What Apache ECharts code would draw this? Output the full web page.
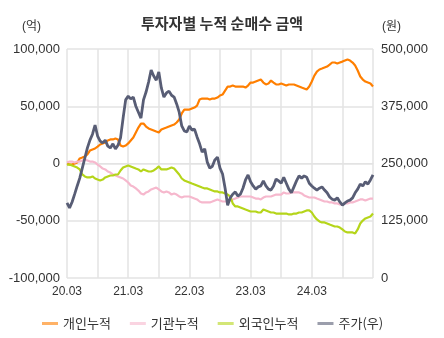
<!DOCTYPE html>
<html>
<head>
<meta charset="utf-8">
<script src="https://cdn.jsdelivr.net/npm/echarts@6/dist/echarts.min.js"></script>
<style>
  html, body { margin: 0; padding: 0; background: #fff; }
  #chart { width: 444px; height: 338px; }
</style>
</head>
<body>
<div id="chart"></div>
<script>
// Half-monthly observation dates, 2020.03 – 2025.03
const startYear = 20;
const periods = 121;

// Tick labels shown on the date axis
const yearLabels = ['20.03', '21.03', '22.03', '23.03', '24.03'];

// Cumulative net buying (억 원)
const individual = [
  0, -900, -900, 0, 900, 4400, 5200, 6100, 7900, 11300,
  12200, 13100, 14800, 16600, 17500, 18300, 20100, 21000, 21000, 21800,
  21000, 15700, 14800, 15700, 17500, 20100, 22700, 27100, 31400, 34900,
  34900, 32300, 30600, 29700, 28800, 27900, 27100, 29700, 30600, 31400,
  32300, 33200, 34000, 35800, 38400, 43700, 47100, 47100, 47100, 48000,
  48900, 50600, 55900, 56700, 56700, 56700, 55900, 56700, 56700, 57600,
  59400, 60200, 63700, 67200, 67200, 68100, 67200, 67200, 67200, 67200,
  66300, 68100, 70700, 70700, 71600, 72500, 73300, 70700, 69000, 69800,
  72500, 70700, 69000, 69000, 69800, 69000, 68100, 69000, 69000, 69000,
  68100, 67200, 66300, 65500, 64600, 67200, 71600, 76800, 80300, 82100,
  82900, 83800, 84700, 86400, 88200, 88200, 87300, 88200, 89000, 89900,
  90800, 89900, 88200, 85600, 81200, 76000, 73300, 71600, 70700, 69800,
  67200
];
const institution = [
  900, 1700, 1700, 900, 1700, 1700, 2600, 3500, 2600, 1700,
  1700, 900, -900, -2600, -4400, -5200, -7000, -7900, -9600, -10500,
  -11300, -12200, -13100, -14800, -16600, -19200, -20100, -21800, -23600, -26200,
  -27100, -25300, -24400, -22700, -21800, -21000, -22700, -24400, -25300, -24400,
  -25300, -27100, -26200, -27100, -28800, -29700, -28800, -28800, -28800, -29700,
  -30600, -31400, -33200, -34000, -34000, -34000, -34000, -33200, -32300, -31400,
  -32300, -33200, -33200, -33200, -32300, -31400, -30600, -29700, -28800, -28800,
  -28800, -28800, -28800, -29700, -30600, -30600, -31400, -29700, -28800, -28800,
  -28800, -27900, -27100, -27100, -27100, -25300, -26200, -26200, -25300, -25300,
  -25300, -25300, -26200, -27900, -28800, -29700, -29700, -29700, -30600, -31400,
  -32300, -33200, -33200, -34000, -34000, -34900, -34900, -35800, -35800, -34900,
  -34900, -34000, -34000, -33200, -32300, -31400, -31400, -32300, -31400, -30600,
  -30600
];
const foreign = [
  -900, -900, -1700, -2600, -3500, -5200, -9600, -11300, -12200, -12200,
  -11300, -13100, -14000, -14800, -14000, -12200, -11300, -10500, -10500, -9600,
  -9600, -6100, -3500, -2600, -1700, -2600, -3500, -4400, -5200, -7000,
  -5200, -6100, -7000, -7000, -6100, -4400, -2600, -5200, -5200, -5200,
  -4400, -3500, -4400, -7000, -9600, -13100, -14800, -15700, -16600, -17500,
  -18300, -19200, -20100, -21000, -21800, -21800, -22700, -23600, -24400, -24400,
  -25300, -25300, -26200, -27100, -28800, -34900, -37500, -37500, -38400, -39300,
  -40200, -41000, -41900, -41900, -41900, -42800, -42800, -40200, -41000, -41900,
  -42800, -42800, -43700, -43700, -43700, -43700, -43700, -44500, -44500, -43700,
  -43700, -42800, -42800, -41900, -41000, -41000, -42800, -46300, -48900, -50600,
  -51500, -51500, -52400, -53300, -54100, -55000, -55000, -55900, -57600, -59400,
  -60200, -60200, -60200, -61100, -57600, -52400, -49800, -48000, -47100, -46300,
  -43700
];
// Share price (원), right axis
const price = [
  164000, 153000, 166000, 183000, 201000, 218000, 240000, 262000, 284000, 301000,
  314000, 334000, 310000, 299000, 295000, 301000, 288000, 284000, 293000, 282000,
  290000, 306000, 349000, 389000, 397000, 391000, 395000, 375000, 362000, 349000,
  389000, 406000, 428000, 454000, 441000, 432000, 450000, 415000, 395000, 404000,
  408000, 399000, 395000, 380000, 362000, 332000, 321000, 319000, 332000, 323000,
  325000, 308000, 293000, 275000, 282000, 253000, 240000, 244000, 258000, 264000,
  240000, 227000, 196000, 159000, 175000, 183000, 188000, 179000, 183000, 196000,
  214000, 225000, 210000, 201000, 194000, 199000, 201000, 212000, 201000, 194000,
  192000, 201000, 216000, 212000, 207000, 220000, 207000, 194000, 186000, 199000,
  212000, 223000, 218000, 223000, 220000, 207000, 201000, 196000, 192000, 196000,
  199000, 192000, 186000, 177000, 172000, 170000, 175000, 166000, 159000, 164000,
  168000, 170000, 175000, 186000, 194000, 205000, 201000, 210000, 205000, 214000,
  225000
];

// Build the date categories (two per month)
const categories = [];
for (let k = 0; k < periods; k++) {
  const m = 2 + Math.floor(k / 2);           // months since Jan of start year (0-based)
  const yy = startYear + Math.floor(m / 12);
  const mm = (m % 12) + 1;
  const dd = k % 2 === 0 ? '01' : '16';
  categories.push(String(yy).padStart(2, '0') + '.' + String(mm).padStart(2, '0') + '.' + dd);
}

const FONT = "'Liberation Sans', 'Noto Sans CJK KR', sans-serif";
const grid = '#e3e3e3';

const chart = echarts.init(document.getElementById('chart'), null, { renderer: 'canvas' });
chart.setOption({
  animation: false,
  backgroundColor: '#fff',
  textStyle: { fontFamily: FONT },
  title: {
    text: '투자자별 누적 순매수 금액',
    left: 'center',
    top: 11,
    textStyle: { fontFamily: "'Noto Sans CJK KR', sans-serif", fontSize: 15, fontWeight: 'bold', color: '#333' }
  },
  legend: {
    left: 37,
    top: 312,
    icon: 'rect',
    itemWidth: 16,
    itemHeight: 3,
    itemGap: 19,
    textStyle: { fontFamily: "'Noto Sans CJK KR', sans-serif", fontSize: 13, color: '#333' },
    itemStyle: { opacity: 0.6 }
  },
  grid: { left: 67, right: 71, top: 49, bottom: 60, containLabel: false },
  xAxis: {
    type: 'category',
    data: categories,
    boundaryGap: false,
    axisLine: { lineStyle: { color: grid } },
    axisTick: { show: false },
    axisLabel: {
      color: '#333',
      fontSize: 12,
      margin: 8,
      interval: (idx) => idx % 24 === 0 && yearLabels.includes(categories[idx].slice(0, 5)),
      formatter: (v) => v.slice(0, 5)
    },
    splitLine: { show: true, interval: (idx) => idx % 12 === 0, lineStyle: { color: grid, width: 1.5 } }
  },
  yAxis: [
    {
      type: 'value',
      name: '(억)',
      nameLocation: 'end',
      nameGap: 16,
      nameTextStyle: { color: '#333', fontSize: 12, align: 'right', padding: [0, 26, 0, 0] },
      min: -100000, max: 100000, interval: 50000,
      axisLine: { show: false },
      axisTick: { show: false },
      axisLabel: { color: '#333', fontSize: 13, margin: 7, formatter: (v) => v.toLocaleString('en-US') },
      splitLine: { lineStyle: { color: grid, width: 1.5 } }
    },
    {
      type: 'value',
      name: '(원)',
      nameLocation: 'end',
      nameGap: 16,
      nameTextStyle: { color: '#333', fontSize: 12, align: 'left', padding: [0, 0, 0, 9] },
      min: 0, max: 500000, interval: 125000,
      axisLine: { show: false },
      axisTick: { show: false },
      axisLabel: { color: '#333', fontSize: 13, margin: 8, formatter: (v) => v.toLocaleString('en-US') },
      splitLine: { show: false }
    }
  ],
  series: [
    { name: '개인누적', type: 'line', data: individual, showSymbol: false, color: '#ff7f00', lineStyle: { width: 2.2 } },
    { name: '기관누적', type: 'line', data: institution, showSymbol: false, color: '#f6b8cd', lineStyle: { width: 2.2 } },
    { name: '외국인누적', type: 'line', data: foreign, showSymbol: false, color: '#b5d51a', lineStyle: { width: 2.2 } },
    { name: '주가(우)', type: 'line', yAxisIndex: 1, data: price, showSymbol: false, color: '#585d75', lineStyle: { width: 2.8 } }
  ]
});
</script>
</body>
</html>
